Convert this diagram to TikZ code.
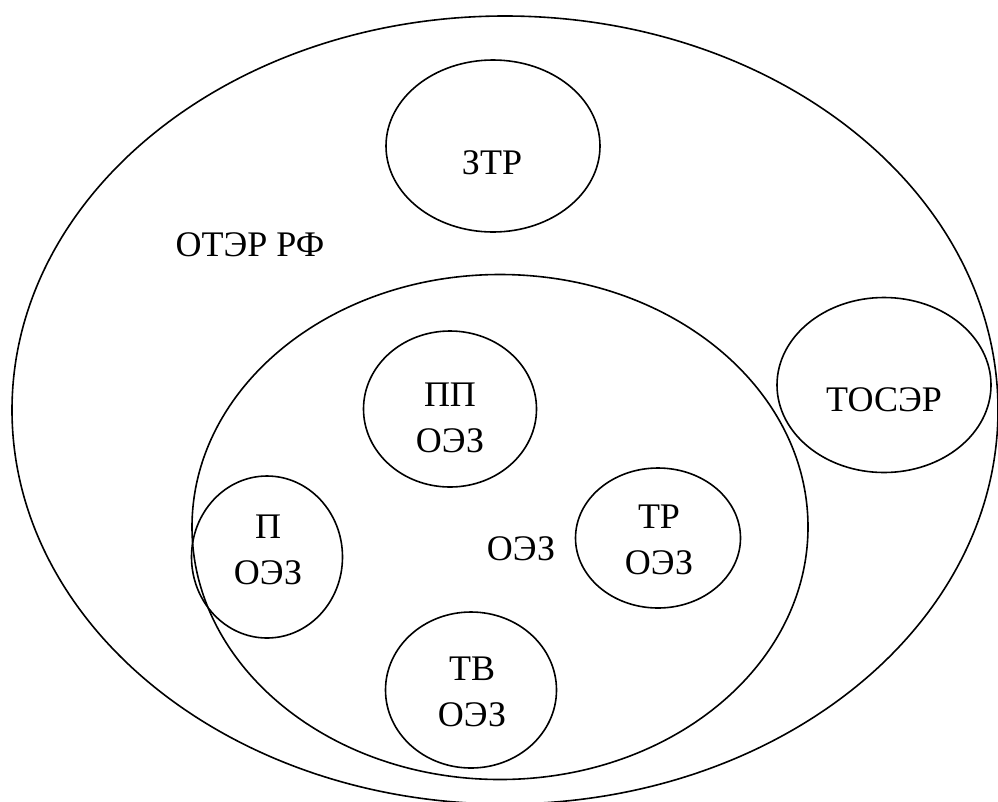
\documentclass[tikz,border=0pt]{standalone}
\usepackage{fontspec}
\setmainfont{Liberation Serif}
\usetikzlibrary{shapes.geometric}
\tikzset{
  ring/.style={draw, ellipse, line width=1.6pt, inner sep=0pt},
  lbl/.style={font=\fontsize{36}{46}\selectfont, align=center, inner sep=0pt}
}
\begin{document}
\begin{tikzpicture}[x=1pt,y=-1pt]
\useasboundingbox (0,0) rectangle (998,801);
\clip (0,0) rectangle (998,801);
\node[ring, minimum width=986pt, minimum height=788pt] (otep) at (505,410) {};
\node[ring, minimum width=214pt, minimum height=172pt] (ztr) at (493,146) {};
\node[ring, minimum width=214pt, minimum height=175pt] (tosep) at (884,385) {};
\node[ring, minimum width=616pt, minimum height=505pt] (oez) at (500,527) {};
\node[ring, minimum width=173pt, minimum height=156pt] (pp) at (450,409) {};
\node[ring, minimum width=151pt, minimum height=162pt] (p) at (267,557) {};
\node[ring, minimum width=165pt, minimum height=140pt] (tr) at (658,538) {};
\node[ring, minimum width=171pt, minimum height=156pt] (tv) at (471,690) {};
\node[lbl] (totep) at (250,245) {ОТЭР РФ};
\node[lbl] (tztr) at (492,163) {ЗТР};
\node[lbl] (ttosep) at (884,400) {ТОСЭР};
\node[lbl] (toez) at (521,549) {ОЭЗ};
\node[lbl] (tpp) at (450,418) {ПП\\ОЭЗ};
\node[lbl] (tp) at (268,550) {П\\ОЭЗ};
\node[lbl] (ttr) at (659,540) {ТР\\ОЭЗ};
\node[lbl] (ttv) at (472,692) {ТВ\\ОЭЗ};
\end{tikzpicture}
\end{document}
